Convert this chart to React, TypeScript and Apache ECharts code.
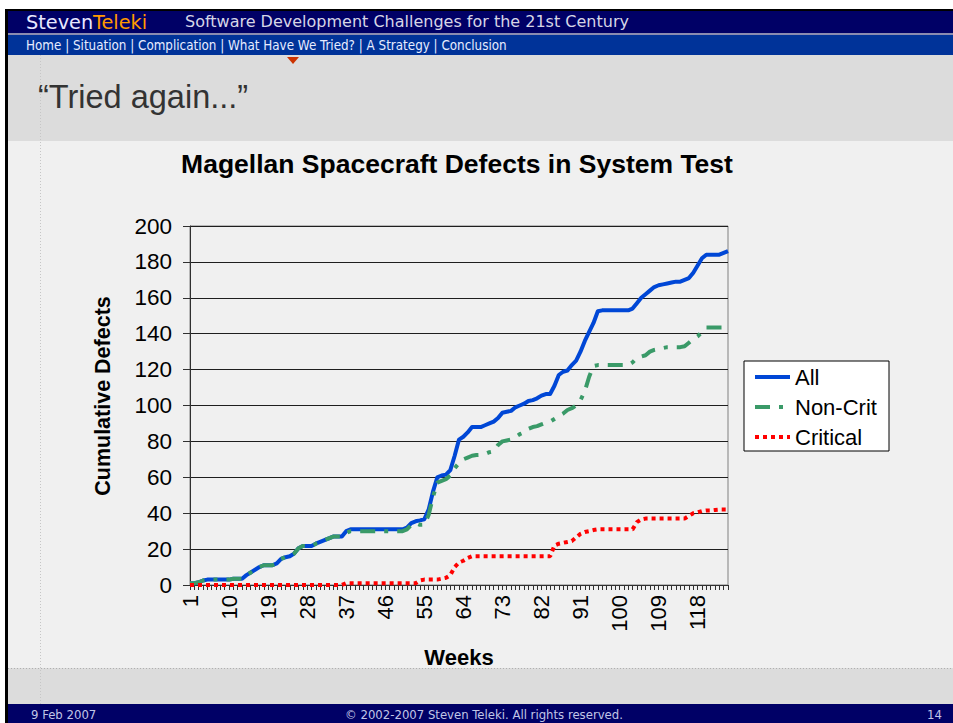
import React, { useEffect, useRef } from "react";
import * as echarts from "echarts";

// Week categories 1..125
const weeks: string[] = Array.from({ length: 125 }, (_, i) => String(i + 1));

const allDefects: number[] = [
  1, 1, 1.5, 2.5, 3, 3, 3, 3, 3, 3,
  3.5, 3.5, 3.5, 5.5, 7, 8.5, 10, 11, 11, 11,
  12, 14.5, 15.5, 16, 17.5, 20.5, 21.7, 21.7, 21.7, 23,
  24, 25, 26, 27, 27, 27, 30, 31, 31, 31,
  31, 31, 31, 31, 31, 31, 31, 31, 31, 31,
  32, 34.5, 35.5, 36, 36.6, 42, 52, 60, 61, 61.5,
  64, 72, 81, 82.6, 85, 88, 88, 88, 89, 90,
  91, 93, 96, 96.5, 97, 99, 100, 101, 102.5, 103,
  104, 105.5, 106.4, 106.4, 111, 117, 118.8, 119.5, 122.5, 125,
  130, 136, 141, 146, 152.5, 153, 153, 153, 153, 153,
  153, 153, 154, 157, 160, 162, 164, 166, 167, 167.5,
  168, 168.5, 169, 169, 170, 171, 174, 178, 182, 184,
  184, 184, 184, 185, 186,
];

const nonCritDefects: number[] = [
  1, 1, 1.5, 2.5, 3, 3, 3, 3, 3, 3,
  3.5, 3.5, 3.5, 5.5, 7, 8.5, 10, 11, 11, 11,
  12, 14.5, 15.5, 16, 17.5, 20.5, 21.7, 21.7, 21.7, 23,
  24, 25, 26, 27, 27, 27, 29, 30, 30, 30,
  30, 30, 30, 30, 30, 30, 30, 30, 30, 30,
  31, 33.5, 34.5, 33.5, 33.6, 39, 49, 57, 58, 59,
  61, 65, 68, 70, 71, 72, 72.4, 72.5, 73, 74,
  74.5, 78, 80, 80.5, 81, 82.5, 84, 85, 87, 88,
  88.5, 89.5, 90.4, 91, 92.5, 94, 95.5, 97.5, 98.5, 100,
  103, 108, 116, 122, 122.5, 122.5, 122.5, 122.5, 122.5, 122.5,
  122.5, 122.5, 124, 126.5, 127.3, 128, 130, 131, 131.5, 132,
  132.5, 132.5, 132.5, 132.5, 133, 135, 137, 138.5, 141, 143.5,
  143.5, 143.5, 143.5, 143.5, 143.5,
];

const criticalDefects: number[] = [
  0, 0, 0, 0, 0, 0, 0, 0, 0, 0,
  0, 0, 0, 0, 0, 0, 0, 0, 0, 0,
  0, 0, 0, 0, 0, 0, 0, 0, 0, 0,
  0, 0, 0, 0, 0, 0, 1, 1, 1, 1,
  1, 1, 1, 1, 1, 1, 1, 1, 1, 1,
  1, 1, 1, 2.5, 3, 3, 3, 3, 3.5, 4,
  5.5, 10, 12.5, 13.5, 15, 16, 16, 16, 16, 16,
  16, 16, 16, 16, 16, 16, 16, 16, 16, 16,
  16, 16, 16, 16, 22, 23, 23.5, 24, 24.5, 26.5,
  28.5, 29.5, 30, 30.6, 31, 31, 31, 31, 31, 31,
  31, 31, 31, 35, 36.5, 37, 37, 37, 37, 37,
  37, 37, 37, 37, 37, 38.5, 40, 40.5, 41.2, 41.5,
  41.5, 41.8, 42, 42, 42,
];

const seriesNames = ["All", "Non-Crit", "Critical"];
const navText = "Home | Situation | Complication | What Have We Tried? | A Strategy | Conclusion";

const ARIAL = "'Liberation Sans', Arial, sans-serif";
const VERDANA = "'DejaVu Sans', Verdana, sans-serif";
const TAHOMA = "'DejaVu Sans Condensed', 'DejaVu Sans', Tahoma, sans-serif";

export default function App() {
  const ref = useRef<HTMLDivElement>(null);

  useEffect(() => {
    const chart = echarts.init(ref.current!, null, { renderer: "svg" });
    const bg = (x: number, y: number, w: number, h: number, fill: string, z = -10) => ({
      type: "rect",
      z,
      silent: true,
      shape: { x, y, width: w, height: h },
      style: { fill },
    });
    const txt = (
      x: number,
      y: number,
      text: string,
      fontSize: number,
      fontFamily: string,
      fill: string,
      align = "left",
      fontWeight = "normal"
    ) => ({
      type: "text",
      z: 5,
      x,
      y,
      style: { text, fontSize, fontFamily, fill, align, verticalAlign: "middle", fontWeight },
    });

    chart.setOption({
      animation: false,
      backgroundColor: "#ffffff",
      title: {
        text: "Magellan Spacecraft Defects in System Test",
        left: 457,
        top: 150,
        textAlign: "center",
        padding: 0,
        textStyle: { fontFamily: ARIAL, fontSize: 26.5, fontWeight: "bold", color: "#000" },
      },
      grid: {
        left: 190,
        right: 225,
        top: 226,
        bottom: 138,
        show: true,
        borderColor: "#808080",
        borderWidth: 1,
        backgroundColor: "transparent",
      },
      legend: {
        orient: "vertical",
        left: 753,
        top: 366,
        padding: 0,
        itemGap: 8,
        itemWidth: 35,
        itemHeight: 14,
        data: seriesNames,
        itemStyle: { color: "rgba(0,0,0,0)", borderColor: "rgba(0,0,0,0)", borderWidth: 0 },
        lineStyle: { width: 4 },
        textStyle: { fontFamily: ARIAL, fontSize: 22, color: "#000", lineHeight: 22 },
      },
      xAxis: {
        type: "category",
        data: weeks,
        boundaryGap: false,
        name: "Weeks",
        nameLocation: "middle",
        nameGap: 61,
        nameTextStyle: { fontFamily: ARIAL, fontSize: 22, fontWeight: "bold", color: "#000" },
        axisLine: { show: true, lineStyle: { color: "#303030", width: 1 } },
        axisTick: { show: true, interval: 0, length: 5, inside: false, lineStyle: { color: "#303030" } },
        axisLabel: {
          interval: 8,
          rotate: 90,
          margin: 10,
          fontFamily: ARIAL,
          fontSize: 22,
          color: "#000",
        },
        splitLine: { show: false },
      },
      yAxis: {
        type: "value",
        min: 0,
        max: 200,
        interval: 20,
        axisLine: { show: true, lineStyle: { color: "#303030", width: 1 } },
        axisTick: { show: true, length: 7, inside: false, lineStyle: { color: "#303030" } },
        axisLabel: { margin: 18, fontFamily: ARIAL, fontSize: 22.5, color: "#000" },
        splitLine: { show: true, lineStyle: { color: "#1e1e1e", width: 1 } },
      },
      series: [
        {
          name: "All",
          type: "line",
          data: allDefects,
          symbol: "none",
          smooth: false,
          lineStyle: { color: "#0047D6", width: 4, join: "round" },
          itemStyle: { color: "#0047D6" },
        },
        {
          name: "Non-Crit",
          type: "line",
          data: nonCritDefects,
          symbol: "none",
          smooth: false,
          lineStyle: { color: "#3A9A68", width: 4, type: [15, 9, 4, 9], cap: "butt" },
          itemStyle: { color: "#3A9A68" },
        },
        {
          name: "Critical",
          type: "line",
          data: criticalDefects,
          symbol: "none",
          smooth: false,
          lineStyle: { color: "#FF0000", width: 4, type: [4, 4], cap: "butt" },
          itemStyle: { color: "#FF0000" },
        },
      ],
      graphic: [
        bg(5, 9, 948, 714, "#000000", -12),
        bg(8, 11, 945, 22, "#000066"),
        bg(8, 33, 945, 2, "#8a8cb0"),
        bg(8, 35, 945, 20, "#003399"),
        bg(8, 55, 945, 649, "#dcdcdc"),
        bg(8, 141, 945, 527, "#f0f0f0", -9),
        bg(8, 704, 945, 19, "#000066", -9),
        {
          type: "line",
          z: -8,
          silent: true,
          shape: { x1: 8, y1: 668.5, x2: 953, y2: 668.5 },
          style: { stroke: "#b0b0b0", lineWidth: 1, lineDash: [1, 2] },
        },
        {
          type: "line",
          z: -8,
          silent: true,
          shape: { x1: 40.5, y1: 55, x2: 40.5, y2: 704 },
          style: { stroke: "#c6c6c6", lineWidth: 1, lineDash: [1, 2] },
        },
        {
          type: "polygon",
          z: -7,
          silent: true,
          shape: { points: [[287, 57], [299, 57], [293, 64]] },
          style: { fill: "#cc3300" },
        },
        {
          type: "rect",
          z: 1,
          silent: true,
          shape: { x: 744, y: 361, width: 145, height: 90 },
          style: { fill: "#ffffff", stroke: "#000000", lineWidth: 1 },
        },
        {
          type: "text",
          z: 5,
          x: 103,
          y: 396,
          rotation: Math.PI / 2,
          style: {
            text: "Cumulative Defects",
            fontSize: 21.5,
            fontFamily: ARIAL,
            fontWeight: "bold",
            fill: "#000",
            align: "center",
            verticalAlign: "middle",
          },
        },
        txt(26, 22, "Steven", 19.3, VERDANA, "#e8e8ff"),
        txt(93, 22, "Teleki", 19.3, VERDANA, "#ff9900"),
        txt(185, 21, "Software Development Challenges for the 21st Century", 16, VERDANA, "#d6d6e6"),
        txt(26, 45.5, navText, 13.3, TAHOMA, "#e6ecff"),
        txt(38, 97, "\u201CTried again...\u201D", 32.5, ARIAL, "#333333"),
        txt(31, 714, "9 Feb 2007", 13, TAHOMA, "#c0c6e6"),
        txt(484, 714, "\u00A9 2002-2007 Steven Teleki. All rights reserved.", 13, TAHOMA, "#c0c6e6", "center"),
        txt(942, 714, "14", 13, TAHOMA, "#c0c6e6", "right"),
      ],
    });
    return () => chart.dispose();
  }, []);

  return (
    <div
      ref={ref}
      style={{ position: "absolute", left: 0, top: 0, width: 953, height: 723, background: "#ffffff" }}
    />
  );
}
